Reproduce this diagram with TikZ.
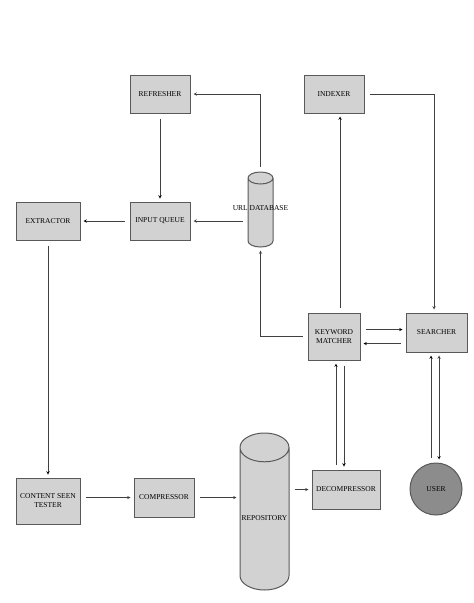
\documentclass[tikz,border=0pt]{standalone}
\usepackage{fontspec}
\setmainfont{Liberation Serif}
\usepackage{tikz}
\usetikzlibrary{shapes,shapes.geometric,arrows,positioning}

\begin{document}
\begin{tikzpicture}[x=1pt, y=-1pt, >=stealth,
	link/.style={->, draw=black!75, line width=0.5pt, shorten >=3pt, shorten <=5pt},
	block/.style={rectangle, draw=black!65, line width=1pt, fill=gray!35, align=center, inner sep=1pt,
		font=\fontsize{7.5}{9}\selectfont, minimum width=60pt, minimum height=38pt},
	store/.style={cylinder, shape border rotate=90, anchor=shape center, draw=black!65, line width=1pt, fill=gray!35},
	person/.style={circle, draw=black!65, line width=1pt, fill=black!45, minimum size=52pt,
		font=\fontsize{7.5}{9}\selectfont},
	every label/.style={font=\fontsize{7.5}{9}\selectfont, inner sep=0pt}]
	\useasboundingbox (0,0) rectangle (474,603);
	
	\node[block] (refresher)                                         at (160,94)    {REFRESHER};
	\node[block] (indexer)                                           at (334,94)    {INDEXER};
	\node[block, minimum width=64pt] (extractor)                     at (48,221)    {EXTRACTOR};
	\node[block] (inputqueue)                                        at (160,221)   {INPUT QUEUE};
	\node[store, inner sep=12pt, minimum width=25pt, minimum height=75pt, aspect=0.5,
		label={[yshift=8pt]center:URL DATABASE}] (urldb)              at (260.5,209.5) {};
	\node[block, minimum width=52pt, minimum height=47pt] (matcher)  at (334,336.5) {KEYWORD\\MATCHER};
	\node[block, minimum width=61pt, minimum height=39pt] (searcher) at (436.5,332.5) {SEARCHER};
	
	\node[block, minimum width=64pt, minimum height=46pt] (tester)   at (48,501)    {CONTENT SEEN\\TESTER};
	\node[block, minimum height=39pt] (compressor)                   at (164,497.5) {COMPRESSOR};
	\node[store, inner sep=24pt, minimum width=49pt, minimum height=157pt, aspect=0.6,
		label={[yshift=8pt]center:REPOSITORY}] (repository)           at (264.5,511.5) {};
	\node[block, minimum width=68pt, minimum height=39pt] (decompressor) at (346,489.5) {DECOMPRESSOR};
	\node[person] (user)                                             at (436,489)   {USER};
	
	\coordinate (mcup)   at ([xshift=2pt]matcher.south);
	\coordinate (mcdown) at ([xshift=10pt]matcher.south);
	\coordinate (scup)   at ([xshift=-5.5pt]searcher.south);
	\coordinate (scdown) at ([xshift=2.5pt]searcher.south);
	\coordinate (mcto)   at ([yshift=7pt]matcher.east);
	\coordinate (mcback) at ([yshift=-7pt]matcher.east);
	
	\draw[link] (urldb.north) |- (refresher.east);
	\draw[link] (indexer.east) -| ([xshift=-2.5pt]searcher.north);
	\draw[link] (matcher.west) -| (urldb.south);
	\draw[link] (urldb.west |- inputqueue.east) -- (inputqueue.east);
	\draw[link] (tester.east |- compressor.west) -- (compressor.west);
	\draw[link] (compressor.east) -- (compressor.east -| repository.west);
	\draw[link] (repository.east |- decompressor.west) -- (decompressor.west);
	
	\path[link] 	(refresher) edge (inputqueue)
	(inputqueue) edge (extractor)
	(extractor) edge (tester)
	([xshift=6pt]matcher.north) edge ([xshift=6pt]indexer.south)
	(mcto) edge (mcto -| searcher.west)
	(mcback -| searcher.west) edge (mcback)
	(mcup |- decompressor.north) edge (mcup)
	(mcdown) edge (mcdown |- decompressor.north)
	(scup |- user.north) edge (scup)
	(scdown) edge (scdown |- user.north);
	
\end{tikzpicture}
\end{document}
